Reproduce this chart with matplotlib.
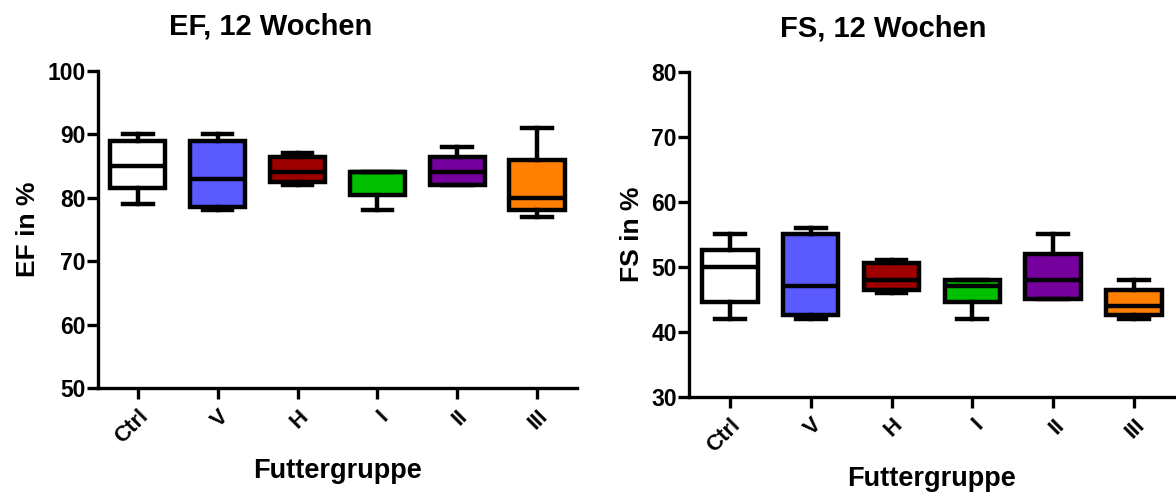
import matplotlib
matplotlib.use("Agg")
import matplotlib.pyplot as plt

plt.rcParams['font.family'] = ['Liberation Sans', 'DejaVu Sans']
plt.rcParams['font.weight'] = 'bold'

groups = ['Ctrl', 'V', 'H', 'I', 'II', 'III']
colors = ['#ffffff', '#5a5aff', '#9e0000', '#00c000', '#76009e', '#ff8000']

# EF, 12 Wochen
ef_min = [79, 78, 82, 78, 82, 77]
ef_q1 = [81.5, 78.5, 82.5, 80.5, 82, 78]
ef_med = [85, 83, 84, 84, 84, 80]
ef_q3 = [89, 89, 86.5, 84, 86.5, 86]
ef_max = [90, 90, 87, 84, 88, 91]

# FS, 12 Wochen
fs_min = [42, 42, 46, 42, 45, 42]
fs_q1 = [44.6, 42.5, 46.4, 44.6, 45, 42.5]
fs_med = [50, 47, 48, 47, 48, 44]
fs_q3 = [52.6, 55, 50.6, 48, 52, 46.5]
fs_max = [55, 56, 51, 48, 55, 48]


def draw_panel(ax, lo, q1, med, q3, hi, title, ylabel, ylim, yticks, title_x):
    stats = []
    for i, g in enumerate(groups):
        stats.append(dict(label=g, whislo=lo[i], q1=q1[i], med=med[i],
                          q3=q3[i], whishi=hi[i], fliers=[]))
    lw = 3.2
    bp = ax.bxp(stats, positions=range(1, len(groups) + 1), widths=0.69,
                capwidths=0.37, patch_artist=True, showfliers=False,
                boxprops=dict(linewidth=lw, edgecolor='black'),
                medianprops=dict(linewidth=lw, color='black'),
                whiskerprops=dict(linewidth=lw, color='black'),
                capprops=dict(linewidth=lw, color='black'))
    for patch, c in zip(bp['boxes'], colors):
        patch.set_facecolor(c)

    ax.set_xlim(0.5, 6.5)
    ax.set_ylim(*ylim)
    ax.set_yticks(yticks)
    ax.set_xticks(range(1, len(groups) + 1))
    ax.set_xticklabels(groups, rotation=45, ha='right', rotation_mode='anchor',
                       fontsize=16, fontweight='bold')
    for lab in ax.get_yticklabels():
        lab.set_fontsize(16.5)
        lab.set_fontweight('bold')
    ax.spines['top'].set_visible(False)
    ax.spines['right'].set_visible(False)
    ax.spines['left'].set_linewidth(2.4)
    ax.spines['bottom'].set_linewidth(2.4)
    ax.tick_params(axis='both', width=2.4, length=8, pad=1)
    ax.tick_params(axis='x', pad=5)
    ax.set_ylabel(ylabel, fontsize=19, fontweight='bold', labelpad=5)
    ax.set_xlabel('Futtergruppe', fontsize=19.5, fontweight='bold', labelpad=7)
    ax.set_title(title, fontsize=21, fontweight='bold', x=title_x, pad=26)


fig = plt.figure(figsize=(11.76, 5.0), dpi=100)
ax1 = fig.add_axes([0.0833, 0.224, 0.4073, 0.634])
ax2 = fig.add_axes([0.586, 0.207, 0.413, 0.648])

draw_panel(ax1, ef_min, ef_q1, ef_med, ef_q3, ef_max, 'EF, 12 Wochen', 'EF in %',
           (50, 100), [50, 60, 70, 80, 90, 100], 0.36)
draw_panel(ax2, fs_min, fs_q1, fs_med, fs_q3, fs_max, 'FS, 12 Wochen', 'FS in %',
           (30, 80), [30, 40, 50, 60, 70, 80], 0.40)

fig.savefig('out.png', dpi=100)
